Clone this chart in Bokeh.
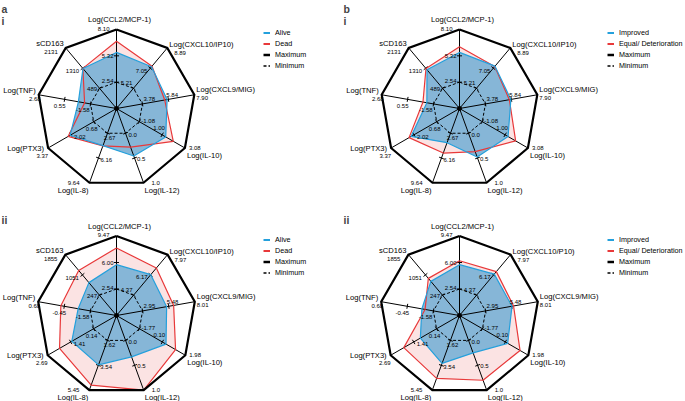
import numpy as np
from bokeh.plotting import figure
from bokeh.models import Range1d, Legend, LegendItem, Label
from bokeh.layouts import column, row
from bokeh.core.properties import value
from bokeh.embed import file_html
from bokeh.resources import INLINE

# ---------------- data ----------------
names_1 = ["Log(CCL2/MCP-1)", "Log(CXCL10/IP10)", "Log(CXCL9/MIG)", "Log(IL-10)",
           "Log(IL-12)", "Log(IL-8)", "Log(PTX3)", "Log(TNF)", "sCD163"]
names_2b = ["Log(CCL2/MCP-1)", "Log(CXCL10/P10)", "Log(CXCL9/MIG)", "Log(IL-10)",
            "Log(IL-12)", "Log(IL-8)", "Log(PTX3)", "Log(TNF)", "sCD163"]

# scale ticks, timepoint i
min_i = [2.54, 5.21, 3.78, -1.08, 0.0, 2.67, 0.68, -1.58, 489]
mid_i = [5.32, 7.05, 5.84, 1.00, 0.5, 6.16, 2.02, 0.55, 1310]
max_i = [8.10, 8.89, 7.90, 3.08, 1.0, 9.64, 3.37, 2.68, 2131]
min_lab_i = ["2.54", "5.21", "3.78", "-1.08", "0.0", "2.67", "0.68", "-1.58", "489"]
mid_lab_i = ["5.32", "7.05", "5.84", "1.00", "0.5", "6.16", "2.02", "0.55", "1310"]
max_lab_i = ["8.10", "8.89", "7.90", "3.08", "1.0", "9.64", "3.37", "2.68", "2131"]

# scale ticks, timepoint ii
min_ii = [2.54, 4.37, 2.95, -1.77, 0.0, 1.62, 0.14, -1.58, 247]
mid_ii = [6.00, 6.17, 5.48, 0.10, 0.5, 3.54, 1.41, -0.45, 1051]
max_ii = [9.47, 7.97, 8.01, 1.98, 1.0, 5.45, 2.69, 0.68, 1855]
min_lab_ii = ["2.54", "4.37", "2.95", "-1.77", "0.0", "1.62", "0.14", "-1.58", "247"]
mid_lab_ii = ["6.00", "6.17", "5.48", "0.10", "0.5", "3.54", "1.41", "-0.45", "1051"]
max_lab_ii = ["9.47", "7.97", "8.01", "1.98", "1.0", "5.45", "2.69", "0.68", "1855"]

# series values
a_i_alive = [5.68, 7.18, 5.74, 1.33, 0.46, 4.42, 2.07, -0.58, 1294]
a_i_dead = [6.85, 7.23, 5.55, 2.02, 0.28, 4.45, 2.19, -1.09, 1300]
b_i_improved = [5.68, 7.23, 5.80, 1.27, 0.48, 4.00, 2.19, -1.03, 1244]
b_i_equal = [6.27, 7.20, 5.68, 1.96, 0.37, 5.46, 2.31, -0.71, 1294]
a_ii_alive = [5.72, 6.19, 5.28, 0.40, 0.33, 3.50, 1.35, -1.05, 745]
a_ii_dead = [7.90, 6.78, 5.96, 1.18, 1.00, 5.06, 2.03, -0.30, 1228]
b_ii_improved = [5.72, 6.24, 5.51, 0.29, 0.25, 3.39, 1.04, -1.08, 794]
b_ii_equal = [6.24, 6.46, 5.66, 1.30, 0.80, 4.54, 1.96, -1.22, 914]

legend_a = ["Alive", "Dead", "Maximum", "Minimum"]
legend_b = ["Improved", "Equal/ Deterioration", "Maximum", "Minimum"]

# ---------------- styles ----------------
FONT = value("Liberation Sans")
BLUE = "#24a0dc"
RED = "#e8393a"
BLUE_FILL = "#80b3d6"
RED_FILL = "#fbe3e3"

# label placement per axis: (align, dx, dy) in pixels (dy downwards)
name_pos = [("center", 3, -10), ("left", 2, -3.5), ("left", 2, -5), ("left", 2, 7),
            ("left", 1, 7.5), ("right", -1, 7.5), ("right", -4, 0), ("right", -3, -4.5),
            ("right", -2, -4)]
max_pos = [("right", -7, -1), ("left", 7, 5), ("left", 2, 3.5), ("left", 4, -0.5),
           ("left", 8, 0), ("right", -10, 0), ("right", 0, 7.5), ("right", 2, 4),
           ("right", -8, 4)]
mid_pos = [("right", -3, 0), ("right", -3, 2.5), ("left", -2, -4.5), ("center", -3, -7),
           ("left", 2.5, 1), ("left", 2, 2), ("left", 3, 2), ("center", -5, 6.5),
           ("right", -3.5, 3)]
min_pos = [("right", -3, -1.5), ("right", -1, -5), ("left", 1, -5), ("left", 2, -1),
           ("left", 3, 2), ("center", 2, 5), ("center", -2, 7), ("right", -1, 6.5),
           ("right", -2.5, 1)]


def add_texts(p, xs, ys, texts, pos, size):
    for align in ("left", "center", "right"):
        idx = [k for k in range(len(texts)) if pos[k][0] == align]
        if not idx:
            continue
        p.text(x=[xs[k] for k in idx], y=[ys[k] for k in idx],
               text=[texts[k] for k in idx],
               x_offset=[pos[k][1] for k in idx], y_offset=[pos[k][2] for k in idx],
               text_align=align, text_baseline="middle", text_font=FONT,
               text_font_size=size, text_color="black")


def radar(W, H, cx, cy, R, names, tmin, tmid, tmax, lmin, lmid, lmax,
          s1, s2, leg_labels, letter, roman, roman_top, leg_x, leg_top):
    p = figure(width=W, height=H, output_backend="svg", toolbar_location=None,
               x_range=Range1d(-cx / R, (W - cx) / R),
               y_range=Range1d(-(H - cy) / R, cy / R),
               x_axis_type=None, y_axis_type=None, min_border=0)
    p.grid.visible = False
    p.outline_line_color = None

    n = len(names)
    th = np.deg2rad(90 - 40 * np.arange(n))
    c, s = np.cos(th), np.sin(th)
    tmin = np.array(tmin, float)
    tmax = np.array(tmax, float)

    def rad(v):
        return 1 / 3 + (2 / 3) * (np.array(v, float) - tmin) / (tmax - tmin)

    def closed(a):
        return list(a) + [a[0]]

    r1, r2 = rad(s1), rad(s2)
    rmid = rad(tmid)
    p.patch(r2 * c, r2 * s, fill_color=RED_FILL, line_color=None)
    p.patch(r1 * c, r1 * s, fill_color=BLUE_FILL, fill_alpha=0.95, line_color=None)

    # spokes
    p.segment(x0=[0] * n, y0=[0] * n, x1=c, y1=s, line_color="black", line_width=1)
    # minimum polygon (dashed)
    rmn = rad(tmin)
    p.line(closed(rmn * c), closed(rmn * s), line_color="black", line_width=1,
           line_dash="3 2")
    # ticks at min & mid
    tl = 2.5 / R
    for rr in (rmn, rmid):
        px, py = rr * c, rr * s
        p.segment(x0=px - tl * (-s), y0=py - tl * c, x1=px + tl * (-s), y1=py + tl * c,
                  line_color="black", line_width=1)
    # series outlines
    p.line(closed(r2 * c), closed(r2 * s), line_color=RED, line_width=1.2)
    p.line(closed(r1 * c), closed(r1 * s), line_color=BLUE, line_width=1.2)
    # maximum polygon
    rmx = rad(tmax)
    p.line(closed(rmx * c), closed(rmx * s), line_color="black", line_width=2.2,
           line_join="miter")
    p.scatter([0], [0], size=4, color="black")

    # texts
    add_texts(p, rmx * c, rmx * s, names, name_pos, "7.6px")
    add_texts(p, rmx * c, rmx * s, lmax, max_pos, "6px")
    add_texts(p, rmid * c, rmid * s, lmid, mid_pos, "6px")
    add_texts(p, rmn * c, rmn * s, lmin, min_pos, "6px")

    # legend (one-point lines: draw nothing in the plot, only their legend glyph)
    g1 = p.line([0], [0], line_color=BLUE, line_width=2)
    g2 = p.line([0], [0], line_color=RED, line_width=2)
    g3 = p.line([0], [0], line_color="black", line_width=2.5)
    g4 = p.line([0], [0], line_color="black", line_width=1.5, line_dash="3 2")
    items = [LegendItem(label=lab, renderers=[g]) for lab, g in zip(leg_labels, [g1, g2, g3, g4])]
    rows = 4
    rh = 11
    leg = Legend(items=items, location=(leg_x, H - leg_top - rows * rh),
                 orientation="vertical", padding=0, margin=0, spacing=0,
                 glyph_width=7, glyph_height=rh, label_height=rh, label_standoff=5,
                 label_text_font="Liberation Sans", label_text_font_size="7.2px",
                 label_text_color="black",
                 border_line_color=None, background_fill_alpha=0)
    p.add_layout(leg)

    if letter:
        p.add_layout(Label(x=1, y=H - 2, x_units="screen", y_units="screen", text=letter,
                           text_font="Liberation Sans", text_font_style="bold",
                           text_font_size="10.5px", text_baseline="top"))
    p.add_layout(Label(x=1, y=H - roman_top, x_units="screen", y_units="screen",
                       text=roman, text_font="Liberation Sans", text_font_style="bold",
                       text_font_size="10.5px", text_baseline="top"))
    return p


p1 = radar(342, 200, 116, 108, 79, names_1, min_i, mid_i, max_i, min_lab_i, mid_lab_i,
           max_lab_i, a_i_alive, a_i_dead, legend_a, "a", "i", 14, 263, 26.5)
p2 = radar(343, 200, 117, 108, 79, names_1, min_i, mid_i, max_i, min_lab_i, mid_lab_i,
           max_lab_i, b_i_improved, b_i_equal, legend_b, "b", "i", 14, 265, 26.5)
p3 = radar(342, 201, 116, 115, 79.5, names_1, min_ii, mid_ii, max_ii, min_lab_ii, mid_lab_ii,
           max_lab_ii, a_ii_alive, a_ii_dead, legend_a, None, "ii", 13, 263, 33.8)
p4 = radar(343, 201, 117, 115, 79.5, names_2b, min_ii, mid_ii, max_ii, min_lab_ii, mid_lab_ii,
           max_lab_ii, b_ii_improved, b_ii_equal, legend_b, None, "ii", 13, 265, 33.8)

layout = column(row(p1, p2), row(p3, p4))
open("out.html", "w").write(file_html(layout, INLINE))
